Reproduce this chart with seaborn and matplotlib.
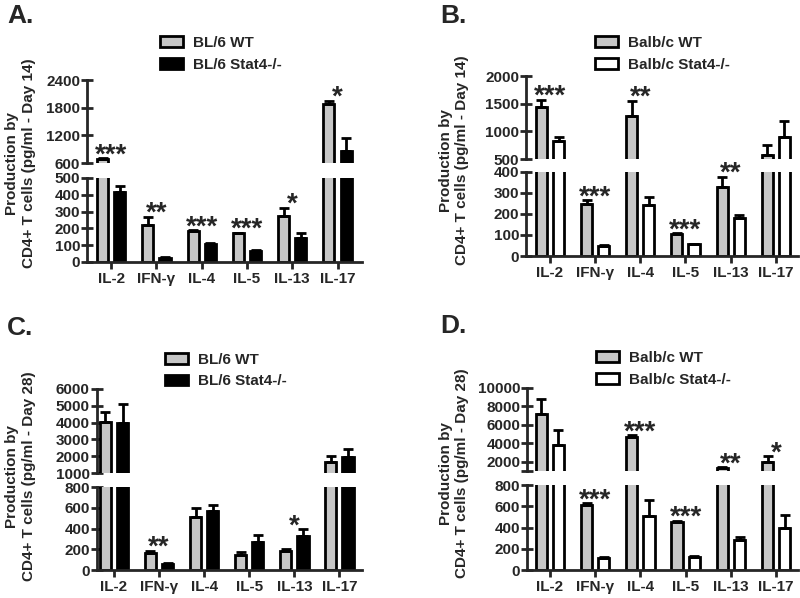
import numpy as np
import pandas as pd
import matplotlib
matplotlib.use('Agg')
import matplotlib.pyplot as plt
import seaborn as sns
from matplotlib.patches import Patch

cytokines = ['IL-2', 'IFN-γ', 'IL-4', 'IL-5', 'IL-13', 'IL-17']

# A - BL/6, day 14
a_groups = ['BL/6 WT', 'BL/6 Stat4-/-']
a_wt = [680, 220, 182, 170, 272, 1875]
a_wt_sem = [25, 50, 6, 5, 52, 80]
a_ko = [418, 25, 105, 68, 140, 865]
a_ko_sem = [35, 5, 8, 4, 30, 275]
a_stars = ['***', '**', '***', '***', '*', '*']

# B - Balb/c, day 14
b_groups = ['Balb/c WT', 'Balb/c Stat4-/-']
b_wt = [1445, 248, 1277, 103, 330, 572]
b_wt_sem = [130, 18, 275, 5, 48, 180]
b_ko = [831, 48, 243, 56, 179, 895]
b_ko_sem = [70, 4, 36, 3, 16, 295]
b_stars = ['***', '***', '**', '***', '**', '']

# C - BL/6, day 28
c_groups = ['BL/6 WT', 'BL/6 Stat4-/-']
c_wt = [4050, 167, 508, 145, 186, 1640]
c_wt_sem = [600, 19, 87, 32, 13, 370]
c_ko = [3990, 62, 571, 273, 328, 1970]
c_ko_sem = [1110, 5, 56, 64, 64, 440]
c_stars = ['', '**', '', '', '*', '']

# D - Balb/c, day 28
d_groups = ['Balb/c WT', 'Balb/c Stat4-/-']
d_wt = [7180, 612, 4650, 455, 1290, 2010]
d_wt_sem = [1650, 15, 250, 10, 110, 610]
d_ko = [3820, 112, 508, 118, 282, 398]
d_ko_sem = [1620, 14, 150, 16, 32, 120]
d_stars = ['', '***', '***', '***', '**', '*']

gray = '#c6c6c6'

sns.set_style('ticks')
plt.rcParams['font.family'] = ['Liberation Sans', 'DejaVu Sans']
plt.rcParams['font.weight'] = 'bold'


def draw_panel(fig, rect_top, rect_bot, groups, colors, wt, wt_sem, ko, ko_sem,
               stars, top_ticks, top_labels, bot_ticks, xlim):
    ax_top = fig.add_axes(rect_top)
    ax_bot = fig.add_axes(rect_bot)
    df = pd.DataFrame({
        'cytokine': cytokines * 2,
        'group': [groups[0]] * 6 + [groups[1]] * 6,
        'value': wt + ko,
    })
    sems = [wt_sem, ko_sem]

    for ax in (ax_top, ax_bot):
        sns.barplot(data=df, x='cytokine', y='value', hue='group',
                    order=cytokines, hue_order=groups,
                    palette=dict(zip(groups, colors)), saturation=1,
                    width=0.76, gap=0.35, edgecolor='black', linewidth=2,
                    errorbar=None, legend=False, ax=ax)
        # error bars (upper only), matched to the drawn bars
        xs, ys, es = [], [], []
        for p in ax.patches:
            xc = p.get_x() + p.get_width() / 2
            cat = int(round(xc))
            hue = 0 if xc < cat else 1
            xs.append(xc)
            ys.append(p.get_height())
            es.append(sems[hue][cat])
        ax.errorbar(xs, ys, yerr=[np.zeros(len(es)), es], fmt='none',
                    ecolor='black', elinewidth=2, capsize=3.6, capthick=2,
                    zorder=3)
        ax.set_xlim(*xlim)
        ax.set_xlabel('')
        ax.set_ylabel('')
        for side in ['top', 'right']:
            ax.spines[side].set_visible(False)
        for side in ['left', 'bottom']:
            ax.spines[side].set_linewidth(2)
        ax.tick_params(axis='y', direction='inout', length=8, width=2,
                       pad=1, labelsize=11)

    ax_top.set_ylim(top_ticks[0], top_ticks[-1])
    ax_top.set_yticks(top_ticks)
    ax_top.set_yticklabels(top_labels)
    ax_top.spines['bottom'].set_visible(False)
    ax_top.set_xticks([])

    ax_bot.set_ylim(bot_ticks[0], bot_ticks[-1])
    ax_bot.set_yticks(bot_ticks)
    ax_bot.set_yticklabels([str(t) for t in bot_ticks])
    ax_bot.tick_params(axis='x', direction='out', length=5, width=2,
                       pad=2, labelsize=11)

    for i, s in enumerate(stars):
        if not s:
            continue
        top = max(wt[i] + wt_sem[i], ko[i] + ko_sem[i])
        ax = ax_bot if top <= bot_ticks[-1] else ax_top
        ax.annotate(s, (i, top), xytext=(0, -3), textcoords='offset points',
                    ha='center', va='baseline', fontsize=20,
                    fontweight='bold', annotation_clip=False)

    handles = [Patch(facecolor=c, edgecolor='black', linewidth=2, label=g)
               for g, c in zip(groups, colors)]
    return handles


fig = plt.figure(figsize=(8, 5.98), dpi=100)

ha = draw_panel(fig, [0.109, 0.7274, 0.344, 0.1388], [0.109, 0.5619, 0.344, 0.1405],
                a_groups, [gray, 'black'], a_wt, a_wt_sem, a_ko, a_ko_sem, a_stars,
                [600, 1200, 1800, 2400], ['600', '1200', '1800', '2400'],
                [0, 100, 200, 300, 400, 500], (-0.53, 5.55))
hb = draw_panel(fig, [0.6575, 0.7341, 0.34, 0.1388], [0.6575, 0.5719, 0.34, 0.1405],
                b_groups, [gray, 'white'], b_wt, b_wt_sem, b_ko, b_ko_sem, b_stars,
                [500, 1000, 1500, 2000], ['500', '1000', '1500', '2000'],
                [0, 100, 200, 300, 400], (-0.53, 5.49))
hc = draw_panel(fig, [0.121, 0.209, 0.331, 0.1405], [0.121, 0.0468, 0.331, 0.1388],
                c_groups, [gray, 'black'], c_wt, c_wt_sem, c_ko, c_ko_sem, c_stars,
                [1000, 2000, 3000, 4000, 5000, 6000],
                ['1000', '2000', '3000', '4000', '5000', '6000'],
                [0, 200, 400, 600, 800], (-0.38, 5.49))
hd = draw_panel(fig, [0.659, 0.2124, 0.339, 0.1388], [0.659, 0.0468, 0.339, 0.142],
                d_groups, [gray, 'white'], d_wt, d_wt_sem, d_ko, d_ko_sem, d_stars,
                [1000, 2000, 4000, 6000, 8000, 10000],
                ['', '2000', '4000', '6000', '8000', '10000'],
                [0, 200, 400, 600, 800], (-0.5, 5.49))

leg_kw = dict(loc='upper left', frameon=False, fontsize=11, handlelength=1.5,
              handleheight=0.7, handletextpad=0.65, labelspacing=0.5,
              borderaxespad=0, borderpad=0)
fig.legend(handles=ha, bbox_to_anchor=(0.2, 0.94), **leg_kw)
fig.legend(handles=hb, bbox_to_anchor=(0.744, 0.94), **leg_kw)
fig.legend(handles=hc, bbox_to_anchor=(0.206, 0.41), **leg_kw)
fig.legend(handles=hd, bbox_to_anchor=(0.745, 0.413), **leg_kw)

ylab = 'Production by\nCD4+ T cells (pg/ml - Day {})'
fig.text(0.026, 0.7274, ylab.format(14), rotation=90, ha='center', va='center',
         fontsize=11, fontweight='bold', linespacing=1.25)
fig.text(0.5675, 0.7324, ylab.format(14), rotation=90, ha='center', va='center',
         fontsize=11, fontweight='bold', linespacing=1.25)
fig.text(0.026, 0.204, ylab.format(28), rotation=90, ha='center', va='center',
         fontsize=11, fontweight='bold', linespacing=1.25)
fig.text(0.5675, 0.209, ylab.format(28), rotation=90, ha='center', va='center',
         fontsize=11, fontweight='bold', linespacing=1.25)

for x, y, letter in [(0.009, 0.9615, 'A.'), (0.55, 0.9615, 'B.'),
                     (0.009, 0.44, 'C.'), (0.55, 0.443, 'D.')]:
    fig.text(x, y, letter, fontsize=19, fontweight='bold', va='baseline')

fig.savefig('out.png', dpi=100)
